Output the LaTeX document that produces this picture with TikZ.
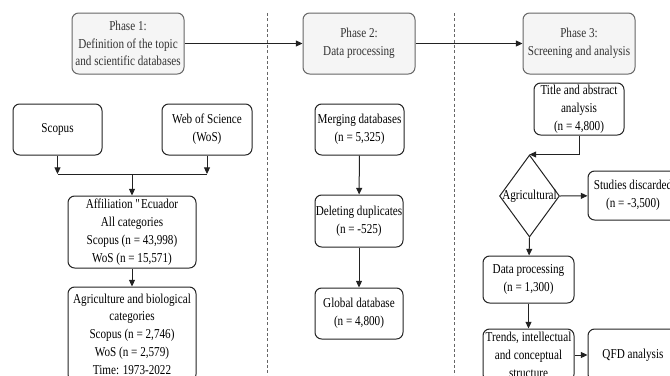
\documentclass[tikz,border=0pt]{standalone}
\usepackage{fontspec}
\setmainfont{Liberation Serif}[FakeStretch=0.82]
\usetikzlibrary{arrows.meta}
\usetikzlibrary{shapes.geometric}
\definecolor{phasefill}{HTML}{F5F5F5}
\definecolor{phaseline}{HTML}{666666}
\definecolor{phasetext}{HTML}{333333}
\definecolor{boxline}{HTML}{222222}
\tikzset{box/.style={% plain process box
        draw=boxline,
        rounded corners=5pt,
        line width=0.75pt,
        align=center,
        inner sep=0pt,
        font=\fontsize{10.2pt}{13.35pt}\selectfont
    },
    phasebox/.style={
        box,
        fill=phasefill,
        draw=phaseline,
        text=phasetext,
        minimum width=112*0.75pt,
        minimum height=61*0.75pt
    },
    decision/.style={
        draw=boxline,
        line width=0.75pt,
        diamond,
        inner sep=0pt,
        minimum width=60*0.75pt,
        minimum height=82*0.75pt
    }}

\begin{document}
\begin{tikzpicture}[x=0.75pt,y=-0.75pt,>={Triangle[length=5pt,width=4.5pt]},
flow/.style={->,line width=0.75pt,draw=boxline},
sep/.style={line width=0.75pt,draw=phaseline,dash pattern=on 2.2pt off 1.8pt}]
      \clip (0,0) rectangle (670,375);
      % phases
      \node[phasebox] (ph1) at (128,43.5) {Phase 1:\\Definition of the topic\\and scientific databases};
      \node[phasebox] (ph2) at (359,43.5) {Phase 2:\\Data processing};
      \node[phasebox] (ph3) at (579,43.5) {Phase 3:\\Screening and analysis};
      \draw[sep] (267,13) -- (267,380);
      \draw[sep] (454,13) -- (454,380);
      % phase 1
      \node[box,minimum width=89*0.75pt,minimum height=51*0.75pt] (scopus) at (57.5,129.5) {Scopus};
      \node[box,minimum width=90*0.75pt,minimum height=51*0.75pt] (wos) at (207,129.5) {Web of Science\\(WoS)};
      \node[box,minimum width=128*0.75pt,minimum height=72*0.75pt] (affil) at (132,232) {Affiliation \textquotedbl Ecuador\\All categories\\Scopus (n = 43,998)\\WoS (n = 15,571)};
      \node[box,minimum width=128*0.75pt,minimum height=94*0.75pt] (agri) at (132,334) {Agriculture and biological\\categories\\Scopus (n = 2,746)\\WoS (n = 2,579)\\Time: 1973-2022};
      \coordinate (join) at (132,174);
      % phase 2
      \node[box,minimum width=89*0.75pt,minimum height=51*0.75pt] (merge) at (359.5,129.5) {Merging databases\\(n = 5,325)};
      \node[box,minimum width=88*0.75pt,minimum height=52*0.75pt] (dupl) at (359,221) {Deleting duplicates\\(n = -525)};
      \node[box,minimum width=88*0.75pt,minimum height=51*0.75pt] (global) at (359,313.5) {Global database\\(n = 4,800)};
      % phase 3
      \node[box,minimum width=90*0.75pt,minimum height=52*0.75pt] (title) at (579,109) {Title and abstract\\analysis\\(n = 4,800)};
      \node[decision] (crit) at (529.5,196) {};
      \node[font=\fontsize{10.2pt}{13.35pt}\selectfont,inner sep=0pt] (critlabel) at (crit) {Agricultural};
      \node[box,minimum width=90*0.75pt,minimum height=49*0.75pt] (discard) at (633,195.5) {Studies discarded\\(n = -3,500)};
      \node[box,minimum width=91*0.75pt,minimum height=47*0.75pt] (dproc) at (528.5,279.5) {Data processing\\(n = 1,300)};
      \node[box,minimum width=91*0.75pt,minimum height=52*0.75pt] (trends) at (528.5,355) {Trends, intellectual\\and conceptual\\structure};
      \node[box,minimum width=90*0.75pt,minimum height=52*0.75pt] (qfd) at (633,355) {QFD analysis};
      % connectors
      \draw[flow] (ph1) -- (ph2);
      \draw[flow] (ph2) -- (ph3);
      \draw[flow] (scopus) -- (scopus |- join);
      \draw[flow] (wos) -- (wos |- join);
      \draw[line width=0.75pt,draw=boxline] (scopus |- join) -- (wos |- join);
      \draw[flow] (join) -- (affil);
      \draw[flow] (affil) -- (agri);
      \draw[flow] (merge) -- (dupl);
      \draw[flow] (dupl) -- (global);
      \draw[flow] (title.south) |- (crit.north);
      \draw[flow] (crit.east) -- (discard);
      \draw[flow] (crit.south) -- (dproc);
      \draw[flow] (dproc) -- (trends);
      \draw[flow] (trends) -- (qfd);
\end{tikzpicture}
\end{document}
